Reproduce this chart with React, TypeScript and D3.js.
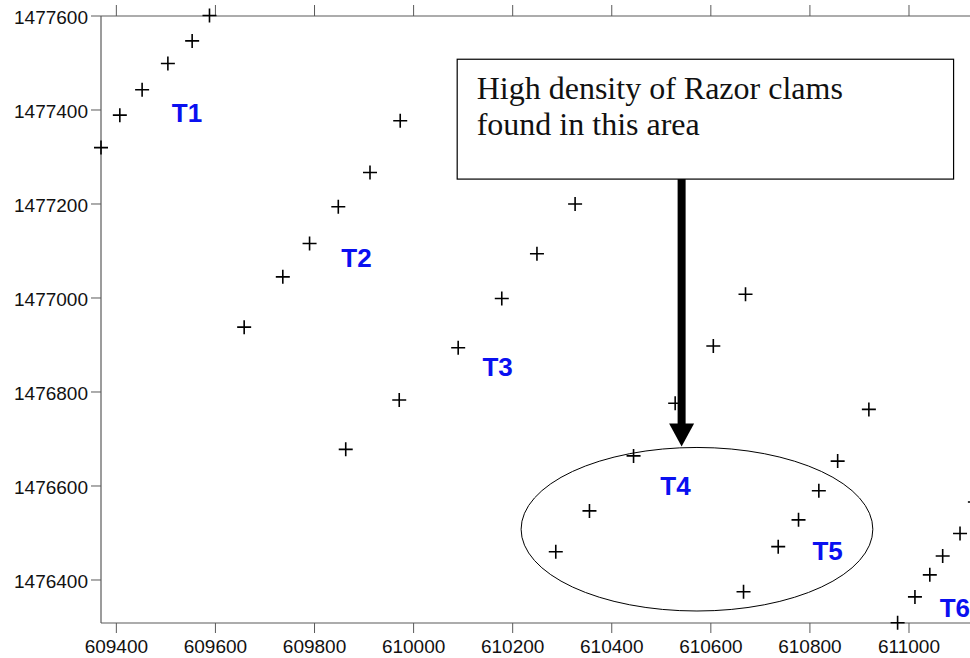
import React from "react";
import * as d3 from "d3";

// Survey points (easting, northing) grouped by transect
const t1E = [609369, 609407, 609452, 609504, 609553, 609588];
const t1N = [1477320, 1477389, 1477443, 1477499, 1477547, 1477601];
const t2E = [609658, 609736, 609790, 609848, 609912, 609973];
const t2N = [1476938, 1477045, 1477116, 1477194, 1477267, 1477377];
const t3E = [609863, 609971, 610090, 610178, 610249, 610326];
const t3N = [1476678, 1476783, 1476894, 1476999, 1477094, 1477200];
const t4E = [610287, 610355, 610444, 610528, 610605, 610670];
const t4N = [1476460, 1476547, 1476664, 1476776, 1476898, 1477008];
const t5E = [610666, 610736, 610777, 610818, 610856, 610919];
const t5N = [1476375, 1476471, 1476528, 1476590, 1476653, 1476763];
const t6E = [610977, 611012, 611042, 611068, 611103, 611133];
const t6N = [1476309, 1476364, 1476411, 1476451, 1476499, 1476566];

const transectNames = ["T1", "T2", "T3", "T4", "T5", "T6"];
const labelE = [609512, 609854, 610139, 610498, 610805, 611062];
const labelN = [1477375, 1477065, 1476834, 1476581, 1476443, 1476322];

const xTicks = [609400, 609600, 609800, 610000, 610200, 610400, 610600, 610800, 611000];
const yTicks = [1476400, 1476600, 1476800, 1477000, 1477200, 1477400, 1477600];

const xDomain = [609369, 611200];
const yDomain = [1476308.5, 1477600];

// annotation (data coords)
const noteLines = ["High density of Razor clams", "found in this area"];
const noteBoxE = [610088, 611090];
const noteBoxN = [1477508, 1477253];
const arrowE = 610541;
const arrowTipN = 1476684;
const ellipseCenter = [610572, 1476508];
const ellipseRadii = [355, 174];

export default function App() {
  const W = 970;
  const H = 658;
  const x = d3.scaleLinear().domain(xDomain).range([101, 101 + (xDomain[1] - xDomain[0]) * 0.4954]);
  const y = d3.scaleLinear().domain(yDomain).range([623, 16]);

  const groups = [
    [t1E, t1N],
    [t2E, t2N],
    [t3E, t3N],
    [t4E, t4N],
    [t5E, t5N],
    [t6E, t6N],
  ];
  const pts: [number, number][] = [];
  groups.forEach(([es, ns]) => es.forEach((e, i) => pts.push([e, ns[i]])));

  const left = x(xDomain[0]);
  const top = y(yDomain[1]);
  const bottom = y(yDomain[0]);
  const axisColor = "#5a5a5a";
  const tickFont = "Liberation Sans, Arial, sans-serif";

  const bx0 = x(noteBoxE[0]);
  const bx1 = x(noteBoxE[1]);
  const by0 = y(noteBoxN[0]);
  const by1 = y(noteBoxN[1]);
  const ax = x(arrowE);
  const tipY = y(arrowTipN);
  const headH = 23;
  const headW = 12.5;

  const ecx = x(ellipseCenter[0]);
  const ecy = y(ellipseCenter[1]);
  const erx = x(ellipseCenter[0] + ellipseRadii[0]) - ecx;
  const ery = ecy - y(ellipseCenter[1] + ellipseRadii[1]);

  return (
    <svg
      width={W}
      height={H}
      style={{ position: "absolute", left: 0, top: 0, background: "#fff" }}
    >
      <rect x={0} y={0} width={W} height={H} fill="#fff" />
      {/* axes */}
      <line x1={left} x2={W} y1={top} y2={top} stroke={axisColor} strokeWidth={1.2} />
      <line x1={left} x2={W} y1={bottom} y2={bottom} stroke={axisColor} strokeWidth={1.2} />
      <line x1={left} x2={left} y1={top} y2={bottom} stroke={axisColor} strokeWidth={1.2} />
      {xTicks.map((t) => (
        <g key={"xt" + t}>
          <line x1={x(t)} x2={x(t)} y1={top} y2={top - 11} stroke={axisColor} strokeWidth={1} />
          <line x1={x(t)} x2={x(t)} y1={bottom} y2={bottom + 10} stroke={axisColor} strokeWidth={1} />
          <text
            x={x(t)}
            y={bottom + 30}
            textAnchor="middle"
            fontFamily={tickFont}
            fontSize={19}
            fill="#111"
          >
            {t}
          </text>
        </g>
      ))}
      {yTicks.map((t) => (
        <g key={"yt" + t}>
          <line x1={left - 10} x2={left} y1={y(t)} y2={y(t)} stroke={axisColor} strokeWidth={1} />
          <text
            x={left - 13}
            y={y(t) + 8.3}
            textAnchor="end"
            fontFamily={tickFont}
            fontSize={19}
            fill="#111"
          >
            {t}
          </text>
        </g>
      ))}

      {/* points */}
      {pts.map(([e, n], i) => {
        const px = x(e);
        const py = y(n);
        return (
          <path
            key={"p" + i}
            d={`M${px - 7},${py}H${px + 7}M${px},${py - 7}V${py + 7}`}
            stroke="#000"
            strokeWidth={1.6}
            fill="none"
          />
        );
      })}

      {/* transect labels */}
      {transectNames.map((name, i) => (
        <text
          key={name}
          x={x(labelE[i])}
          y={y(labelN[i])}
          fontFamily={tickFont}
          fontWeight="bold"
          fontSize={26}
          fill="#0a10f0"
        >
          {name}
        </text>
      ))}

      {/* ellipse */}
      <ellipse cx={ecx} cy={ecy} rx={erx} ry={ery} fill="none" stroke="#000" strokeWidth={1} />

      {/* annotation box */}
      <rect x={bx0} y={by0} width={bx1 - bx0} height={by1 - by0} fill="#fff" stroke="#000" strokeWidth={1.2} />
      {noteLines.map((l, i) => (
        <text
          key={"n" + i}
          x={bx0 + 19.5}
          y={by0 + 39.5 + i * 36}
          fontFamily="Liberation Serif, Times New Roman, serif"
          fontSize={32}
          fill="#111"
        >
          {l}
        </text>
      ))}

      {/* arrow */}
      <rect x={ax - 4} y={by1} width={8} height={tipY - headH - by1 + 1} fill="#000" />
      <path d={`M${ax - headW},${tipY - headH}L${ax + headW},${tipY - headH}L${ax},${tipY}Z`} fill="#000" />
    </svg>
  );
}
